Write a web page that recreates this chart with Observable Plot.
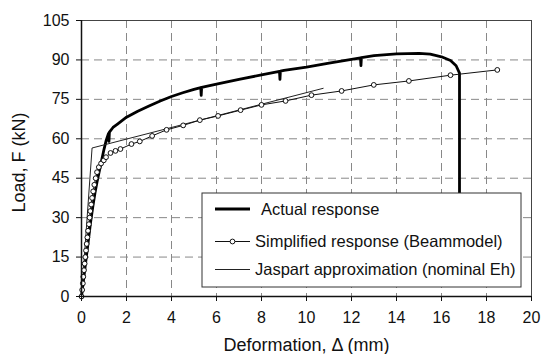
<!DOCTYPE html>
<html>
<head>
<meta charset="utf-8">
<script src="https://cdn.jsdelivr.net/npm/d3@7"></script>
<script src="https://cdn.jsdelivr.net/npm/@observablehq/plot@0.6"></script>
<style>
  html, body { margin: 0; padding: 0; background: white; }
  #chart { width: 541px; height: 354px; }
</style>
</head>
<body>
<div id="chart"></div>
<script>
// Tick values
const xTicks = [0, 2, 4, 6, 8, 10, 12, 14, 16, 18, 20];
const yTicks = [0, 15, 30, 45, 60, 75, 90, 105];
const xGridLines = [2, 4, 6, 8, 10, 12, 14, 16, 18];
const yGridLines = [15, 30, 45, 60, 75, 90];

// Series names
const seriesNames = ["Actual response", "Simplified response (Beammodel)", "Jaspart approximation (nominal Eh)"];

// Actual response (deformation mm, load kN)
const actualD = [0, 0.1, 0.2, 0.3, 0.4, 0.5, 0.6, 0.7, 0.8, 0.9, 1.0, 1.1, 1.2, 1.22, 1.24, 1.4, 1.6, 1.8, 2.0, 2.5, 3.0, 3.5, 4.0, 4.5, 5.0, 5.3, 5.32, 5.34, 6.0, 7.0, 8.0, 8.8, 8.82, 8.84, 9.0, 10.0, 11.0, 12.0, 12.4, 12.42, 12.44, 13.0, 14.0, 15.0, 15.5, 16.0, 16.4, 16.65, 16.8, 16.8];
const actualF = [0, 7, 14, 21, 28, 34, 39.5, 44, 48, 52, 56, 59.5, 62, 59, 62.5, 64.3, 65.6, 66.9, 68.2, 70.5, 72.5, 74.4, 76.1, 77.5, 78.8, 79.5, 76.5, 79.6, 80.8, 82.6, 84.3, 85.6, 82.6, 85.7, 86, 87.3, 88.8, 90.2, 90.8, 87.8, 90.9, 91.6, 92.3, 92.5, 92.2, 91.2, 89.8, 87.8, 85, 20];

// Simplified response (Beam model)
const simpD = [0, 0.03, 0.06, 0.08, 0.11, 0.14, 0.17, 0.2, 0.23, 0.26, 0.29, 0.33, 0.36, 0.39, 0.43, 0.47, 0.52, 0.57, 0.63, 0.69, 0.77, 0.87, 0.99, 1.09, 1.29, 1.51, 1.73, 2.22, 2.59, 3.14, 3.78, 4.52, 5.26, 6.07, 7.07, 8.0, 9.07, 10.22, 11.56, 12.99, 14.55, 16.4, 18.48];
const simpF = [0, 2.5, 5, 7.5, 10, 12.5, 15, 17.5, 20, 22.5, 25, 27.5, 30, 32.5, 35, 37.5, 40, 42.5, 45, 47.3, 49.2, 50.6, 51.8, 53, 54.6, 55.4, 56.1, 58, 59, 61.1, 63.4, 65.1, 67.1, 68.7, 70.9, 72.9, 74.4, 76.6, 78.2, 80.5, 82, 84.2, 86.2];

// Jaspart approximation (nominal Eh)
const jaspD = [0, 0.47, 10.74];
const jaspF = [0, 56.5, 79.2];

const actual = actualD.map((d, i) => ({d, F: actualF[i]}));
const simplified = simpD.map((d, i) => ({d, F: simpF[i]}));
const jaspart = jaspD.map((d, i) => ({d, F: jaspF[i]}));

const font = "'Liberation Sans', Arial, Helvetica, sans-serif";

const chart = Plot.plot({
  width: 541,
  height: 354,
  marginLeft: 81,
  marginRight: 10,
  marginTop: 20,
  marginBottom: 58,
  style: {fontFamily: font, fontSize: "16px", color: "#111", background: "white"},
  x: {domain: [0, 20]},
  y: {domain: [0, 105]},
  marks: [
    Plot.gridX(xGridLines, {stroke: "#888", strokeOpacity: 1, strokeDasharray: "8,5", strokeWidth: 1}),
    Plot.gridY(yGridLines, {stroke: "#888", strokeOpacity: 1, strokeDasharray: "8,5", strokeWidth: 1}),
    Plot.frame({stroke: "#444", strokeWidth: 1}),
    Plot.line(actual, {x: "d", y: "F", stroke: "#000", strokeWidth: 2.8, strokeLinejoin: "round"}),
    Plot.line(jaspart, {x: "d", y: "F", stroke: "#222", strokeWidth: 1}),
    Plot.line(simplified, {x: "d", y: "F", stroke: "#111", strokeWidth: 1}),
    Plot.dot(simplified, {x: "d", y: "F", r: 2.4, fill: "white", stroke: "#111", strokeWidth: 1}),
    Plot.ruleY([0], {stroke: "#111", strokeWidth: 1.5}),
    Plot.ruleX([0], {stroke: "#111", strokeWidth: 1.5}),
    Plot.axisX(xTicks, {tickSize: 5, tickPadding: 10, label: null, fontSize: 16}),
    Plot.axisY(yTicks, {tickSize: 5, tickPadding: 7, label: null, fontSize: 16}),
    Plot.text(["Deformation, Δ (mm)"], {frameAnchor: "bottom", dy: 54, fontSize: 18, fill: "#111"}),
    Plot.text(["Load, F (kN)"], {frameAnchor: "left", textAnchor: "middle", rotate: -90, dx: -62, dy: 4, fontSize: 18, fill: "#111"})
  ]
});

// Legend box drawn over the plot
const svg = d3.select(chart);
const lg = svg.append("g").attr("font-family", font).attr("font-size", 16.5).attr("fill", "#111").attr("text-anchor", "start");
lg.append("rect").attr("x", 202).attr("y", 193).attr("width", 319).attr("height", 94)
  .attr("fill", "white").attr("stroke", "#333").attr("stroke-width", 1);
const rows = [209, 241.5, 269.5];
lg.append("line").attr("x1", 215).attr("x2", 250).attr("y1", rows[0]).attr("y2", rows[0]).attr("stroke", "#000").attr("stroke-width", 2.8);
lg.append("line").attr("x1", 215).attr("x2", 250).attr("y1", rows[1]).attr("y2", rows[1]).attr("stroke", "#111").attr("stroke-width", 1);
lg.append("circle").attr("cx", 232.5).attr("cy", rows[1]).attr("r", 2.4).attr("fill", "white").attr("stroke", "#111");
lg.append("line").attr("x1", 215).attr("x2", 250).attr("y1", rows[2]).attr("y2", rows[2]).attr("stroke", "#222").attr("stroke-width", 1);
seriesNames.forEach((name, i) => {
  lg.append("text").attr("x", i === 0 ? 261 : 255).attr("y", rows[i]).attr("dy", "0.35em").attr("text-anchor", "start").text(name);
});

document.getElementById("chart").appendChild(chart);
</script>
</body>
</html>
